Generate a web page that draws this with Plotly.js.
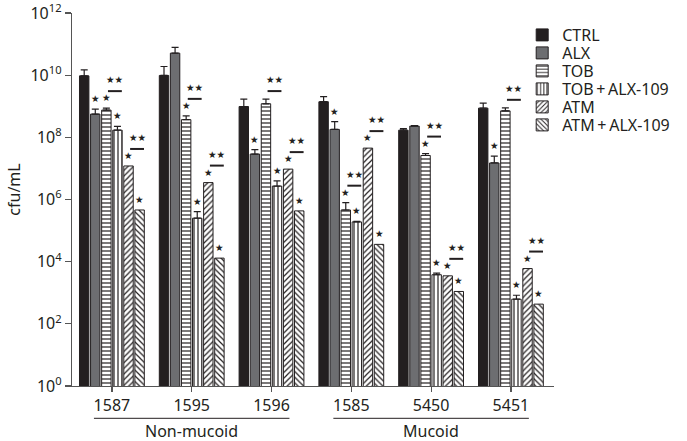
<!DOCTYPE html>
<html><head><meta charset="utf-8">
<script src="https://cdn.plot.ly/plotly-3.0.1.min.js"></script>
<style>body{margin:0;background:#fff}#chart{width:687px;height:441px}</style>
</head><body><div id="chart"></div>
<script>
// ---- data ----
const categories = ['1587', '1595', '1596', '1585', '5450', '5451'];
const groupNames = ['Non-mucoid', 'Mucoid'];
const groupMembers = [[0, 1, 2], [3, 4, 5]];
const seriesNames = ['CTRL', 'ALX', 'TOB', 'TOB\u2009+\u2009ALX-109', 'ATM', 'ATM\u2009+\u2009ALX-109'];
const yTitle = 'cfu/mL';

const ctrl      = [9.5e9, 9.8e9, 9.8e8, 1.4e9, 1.7e8, 8.7e8];
const alx       = [5.6e8, 5.1e10, 2.9e7, 1.8e8, 2.3e8, 1.5e7];
const tob       = [7.5e8, 3.7e8, 1.2e9, 4.6e5, 2.6e7, 7.1e8];
const tobAlx    = [1.7e8, 2.5e5, 2.7e6, 1.9e5, 3.8e3, 6.2e2];
const atm       = [1.2e7, 3.5e6, 9.5e6, 4.5e7, 3.5e3, 6.0e3];
const atmAlx    = [4.6e5, 1.3e4, 4.3e5, 3.6e4, 1.1e3, 4.3e2];

const ctrlErr   = [5.3e9, 9.2e9, 7.2e8, 6.4e8, 2.0e7, 3.9e8];
const alxErr    = [2.5e8, 2.7e10, 1.1e7, 1.4e8, 1.0e7, 1.0e7];
const tobErr    = [1.2e8, 1.2e8, 5.0e8, 3.3e5, 4.0e6, 1.8e8];
const tobAlxErr = [5.4e7, 1.6e5, 1.3e6, 1.0e4, 5.0e2, 2.1e2];
const atmErr    = [0, 0, 0, 0, 0, 0];
const atmAlxErr = [0, 0, 0, 0, 0, 0];

// significance: "*" vs CTRL
const ctrlStar   = [0, 0, 0, 0, 0, 0];
const alxStar    = [1, 0, 1, 1, 0, 1];
const tobStar    = [1, 1, 0, 1, 1, 0];
const tobAlxStar = [1, 1, 1, 1, 1, 1];
const atmStar    = [1, 1, 1, 1, 1, 1];
const atmAlxStar = [1, 1, 1, 1, 1, 1];
// "**" comparisons (series index pairs), present in every strain
const pairs = [[2, 3], [4, 5]];

const yTickVals = [1, 1e2, 1e4, 1e6, 1e8, 1e10, 1e12];
const yTickText = ['10<sup>0</sup>', '10<sup>2</sup>', '10<sup>4</sup>', '10<sup>6</sup>', '10<sup>8</sup>', '10<sup>10</sup>', '10<sup>12</sup>'];

// ---- build ----
const series = [ctrl, alx, tob, tobAlx, atm, atmAlx];
const errors = [ctrlErr, alxErr, tobErr, tobAlxErr, atmErr, atmAlxErr];
const stars = [ctrlStar, alxStar, tobStar, tobAlxStar, atmStar, atmAlxStar];
const xs = categories.map((c, i) => i);

const ink = '#231f20';
const fills = ['#231f20', '#6d6e71', '#ffffff', '#ffffff', '#ffffff', '#ffffff'];
const shapesP = ['', '', '-', '|', '/', '\\'];
const bargap = 0.167;
const nS = series.length;
const slot = (1 - bargap) / nS;
const off = k => -(1 - bargap) / 2 + slot * (k + 0.5);

const PLOT_L = 72, PLOT_W = 500, PLOT_TOP = 13, PLOT_H = 373;
const legendIds = series.map((s, k) => k === 0 ? 'legend' : 'legend' + (k + 1));
const STAR = '\u2605';
const starFont = {family: '"DejaVu Sans", sans-serif', size: 9.5, color: ink};

const traces = series.map((vals, k) => ({
  type: 'bar', name: seriesNames[k], x: xs, y: vals, legend: legendIds[k],
  marker: {
    color: fills[k], line: {color: ink, width: 1},
    pattern: shapesP[k] ? {shape: shapesP[k], fgcolor: ink, bgcolor: '#ffffff', size: 4, solidity: 0.3, fillmode: 'replace'} : {shape: ''}
  },
  error_y: {
    type: 'data', symmetric: false, array: errors[k], arrayminus: vals.map(() => 0),
    visible: errors[k].some(e => e > 0), color: ink, thickness: 1.2, width: 3.5
  },
  hoverinfo: 'skip'
}));

const annotations = [];
const shapes = [];
const topOf = (k, i) => series[k][i] + errors[k][i];

series.forEach((vals, k) => {
  vals.forEach((v, i) => {
    if (stars[k][i]) {
      annotations.push({
        x: i + off(k), y: Math.log10(topOf(k, i)), xref: 'x', yref: 'y',
        text: STAR, showarrow: false, xanchor: 'center', yanchor: 'bottom', yshift: 3,
        font: starFont
      });
    }
  });
});

categories.forEach((c, i) => {
  pairs.forEach(([a, b]) => {
    const ta = topOf(a, i), tb = topOf(b, i);
    const tall = ta >= tb ? a : b;
    const top = Math.max(ta, tb);
    const dy = stars[tall][i] ? 17 : 8;
    const x0 = i + off(a) + 0.02, x1 = i + off(b) + 0.055;
    shapes.push({
      type: 'line', xref: 'x', yref: 'y', ysizemode: 'pixel', yanchor: top,
      x0: x0, x1: x1, y0: dy, y1: dy, line: {color: ink, width: 2}
    });
    annotations.push({
      x: (x0 + x1) / 2, y: Math.log10(top), xref: 'x', yref: 'y',
      text: STAR + STAR, showarrow: false, xanchor: 'center', yanchor: 'bottom', yshift: dy + 4,
      font: starFont
    });
  });
});

groupNames.forEach((g, j) => {
  const m = groupMembers[j];
  shapes.push({
    type: 'line', xref: 'x', yref: 'paper', x0: m[0] - 0.225, x1: m[m.length - 1] + 0.225,
    y0: -0.0866, y1: -0.0866, line: {color: ink, width: 1}
  });
  annotations.push({
    x: (m[0] + m[m.length - 1]) / 2, y: -0.12, xref: 'x', yref: 'paper',
    text: g, showarrow: false, xanchor: 'center', yanchor: 'middle',
    font: {size: 16, color: ink}
  });
});

// y-axis title, placed where the reference has it (slightly above the axis middle)
annotations.push({
  x: (11 - PLOT_L) / PLOT_W, y: (PLOT_TOP + PLOT_H - 189.5) / PLOT_H, xref: 'paper', yref: 'paper',
  text: yTitle, textangle: -90, showarrow: false, xanchor: 'center', yanchor: 'middle',
  font: {size: 16, color: ink}
});

const layout = {
  width: 687, height: 441,
  margin: {l: PLOT_L, r: 687 - PLOT_L - PLOT_W, t: PLOT_TOP, b: 441 - PLOT_TOP - PLOT_H},
  paper_bgcolor: '#ffffff', plot_bgcolor: '#ffffff',
  barmode: 'group', bargap: bargap, bargroupgap: 0.15,
  font: {family: '"Noto Sans", sans-serif', color: ink, size: 16},
  showlegend: true,
  xaxis: {
    range: [-0.5, 5.54], tickvals: xs, ticktext: categories,
    ticks: 'outside', ticklen: 5, tickcolor: '#555', tickwidth: 1.2,
    showline: true, linecolor: '#555', linewidth: 1.2,
    showgrid: false, zeroline: false, tickfont: {size: 16, color: ink}
  },
  yaxis: {
    type: 'log', range: [0, 12], tickvals: yTickVals, ticktext: yTickText,
    ticks: 'outside', ticklen: 6, tickcolor: '#555', tickwidth: 1.2,
    showline: true, linecolor: '#555', linewidth: 1.2, ticklabeloverflow: 'allow',
    showgrid: false, zeroline: false, tickfont: {size: 16, color: ink}
  },
  shapes: shapes,
  annotations: annotations
};

// one single-entry legend per series so the rows can sit 18 px apart
legendIds.forEach((id, k) => {
  const yc = 35 + 18 * k;
  layout[id] = {
    x: 0.934, y: (PLOT_TOP + PLOT_H - yc) / PLOT_H, xanchor: 'left', yanchor: 'middle',
    font: {size: 16, color: ink}, bgcolor: 'rgba(0,0,0,0)', borderwidth: 0
  };
});

Plotly.newPlot('chart', traces, layout, {displayModeBar: false, staticPlot: true});
</script>
</body></html>
